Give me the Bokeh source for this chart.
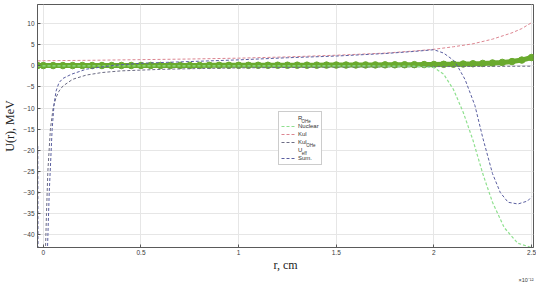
import math
from bokeh.plotting import figure
from bokeh.models import (Range1d, FixedTicker, Legend, LegendItem, Title)
from bokeh.embed import file_html
from bokeh.resources import INLINE

nan = float("nan")

# ---- data (r in units of 1e-12 cm, U in MeV) ----
x_ticks = [0, 0.5, 1, 1.5, 2, 2.5]
x_tick_labels = ["0", "0.5", "1", "1.5", "2", "2.5"]
y_ticks = [-40, -35, -30, -25, -20, -15, -10, -5, 0, 5, 10]

r_kul = [-0.03, 0.0, 0.25, 0.5, 0.75, 1.0, 1.25, 1.5, 1.75, 1.9, 2.0, 2.1, 2.2, 2.3, 2.4, 2.45, 2.5]
u_kul = [1.15, 1.2, 1.3, 1.45, 1.6, 1.8, 2.1, 2.5, 3.0, 3.5, 3.9, 4.5, 5.2, 6.3, 7.8, 8.8, 10.2]

r_nuc = [-0.03, 0.0, 0.5, 1.0, 1.5, 1.9, 2.0, 2.05, 2.1, 2.15, 2.2, 2.25, 2.3, 2.36, 2.43, 2.5]
u_nuc = [0.0, 0.0, 0.0, 0.0, 0.0, -0.1, -0.4, -2.0, -5.6, -11.0, -17.6, -25.5, -32.3, -38.3, -42.0, -43.0]

r_kul_ohe = [0.01, 0.016, 0.023, 0.036, 0.05, 0.065, 0.08, 0.1, 0.15, 0.22, 0.3, 0.4, 0.6, 0.8, 1.0, 1.5, 2.0, 2.5]
u_kul_ohe = [-45, -35, -25, -15, -10, -7.5, -6.0, -4.8, -3.2, -2.2, -1.6, -1.2, -0.85, -0.65, -0.5, -0.3, -0.2, -0.1]

r_sum = [-0.0285, -0.027, nan, 0.02, 0.03, 0.045, 0.055, 0.065, 0.08, 0.1, 0.144, 0.22, 0.36, 0.5,
         0.75, 1.0, 1.25, 1.5, 1.75, 1.9, 2.0, 2.05, 2.1, 2.12, 2.16, 2.21, 2.25, 2.3, 2.34, 2.38,
         2.43, 2.48, 2.5]
u_sum = [-19, -50, nan, -45, -30, -15, -9, -6, -4, -3, -2, -0.8, 0.1, 0.6,
         1.0, 1.4, 1.9, 2.3, 2.9, 3.4, 3.8, 3.0, 1.3, 0.0, -3.3, -9.4, -17.0, -25.5, -30.0, -32.3,
         -32.7, -32.0, -31.0]

r_eff = [-0.03, 0.0, 0.05, 0.1, 0.15, 0.2, 0.25, 0.3, 0.35, 0.4, 0.45, 0.5,
         0.55, 0.6, 0.65, 0.7, 0.75, 0.8, 0.85, 0.9, 0.95, 1.0,
         1.05, 1.1, 1.15, 1.2, 1.25, 1.3, 1.35, 1.4, 1.45, 1.5,
         1.55, 1.6, 1.65, 1.7, 1.75, 1.8, 1.85, 1.9, 1.95, 2.0,
         2.05, 2.1, 2.15, 2.2, 2.25, 2.3, 2.35, 2.4, 2.45, 2.5]
u_eff = [0.05, 0.05, 0.05, 0.05, 0.05, 0.06, 0.06, 0.06, 0.06, 0.07, 0.07, 0.07,
         0.08, 0.08, 0.08, 0.09, 0.09, 0.09, 0.10, 0.10, 0.10, 0.11,
         0.11, 0.12, 0.12, 0.13, 0.13, 0.14, 0.14, 0.15, 0.16, 0.17,
         0.18, 0.19, 0.20, 0.21, 0.22, 0.23, 0.25, 0.27, 0.29, 0.31,
         0.35, 0.38, 0.42, 0.48, 0.56, 0.66, 0.80, 1.00, 1.35, 1.95]

r_rohe = []
u_rohe = []

legend_labels = ["R", "Nuclear", "Kul", "Kul", "U", "Sum."]
legend_subs = ["OHe", "", "", "OHe", "eff", ""]

# ---- figure ----
X0, X1 = -0.03, 2.51
Y0, Y1 = -43.0, 14.5
FW, FH = 496, 243
p = figure(frame_width=FW, frame_height=FH, output_backend="svg", toolbar_location=None,
           x_range=Range1d(X0, X1), y_range=Range1d(Y0, Y1),
           min_border_left=28, min_border_right=3, min_border_top=4, min_border_bottom=10,
           background_fill_color="white", border_fill_color="white")
p.outline_line_color = "#5a5a5a"
p.outline_line_width = 1

p.xaxis.ticker = FixedTicker(ticks=x_ticks)
p.xaxis.major_label_overrides = {t: l for t, l in zip(x_ticks, x_tick_labels)}
p.yaxis.ticker = FixedTicker(ticks=y_ticks)
for ax in (p.xaxis[0], p.yaxis[0]):
    ax.axis_line_color = "#5a5a5a"
    ax.major_tick_line_color = "#5a5a5a"
    ax.major_tick_in = 3
    ax.major_tick_out = 0
    ax.minor_tick_line_color = None
    ax.major_label_text_font = "Liberation Sans"
    ax.major_label_text_font_size = "6.5px"
    ax.major_label_text_color = "#3a3a3a"
    ax.axis_label_text_font = "Liberation Serif"
    ax.axis_label_text_font_style = "normal"
    ax.axis_label_text_font_size = "12px"
    ax.axis_label_text_color = "#222222"
p.xaxis.major_label_standoff = 2
p.xaxis.axis_label_standoff = 0
p.yaxis.major_label_standoff = 3
p.yaxis.axis_label_standoff = 3
p.xaxis.axis_label = "r, cm"
p.yaxis.axis_label = "U(r), MeV"

p.add_layout(Title(text="×10⁻¹²", align="right", text_font="Liberation Sans",
                   text_font_size="5.5px", text_font_style="normal",
                   text_color="#3a3a3a", standoff=0, offset=0), "below")

p.grid.grid_line_color = "#e6e6e6"
p.grid.grid_line_width = 1
p.xgrid.ticker = FixedTicker(ticks=x_ticks)
p.ygrid.ticker = FixedTicker(ticks=y_ticks)

# ---- glyphs ----
col_kul = "#dc8590"
col_nuc = "#8fe08f"
col_kohe = "#6c6c84"
col_sum = "#5a5fa0"
col_eff = "#6aaa2e"

r_eff_line = p.line(r_eff, u_eff, line_color=col_eff, line_width=5)
r_eff_pts = p.scatter(r_eff, u_eff, marker="circle", size=6.5, fill_color=col_eff, line_color=col_eff)
r_kul_line = p.line(r_kul, u_kul, line_color=col_kul, line_width=1, line_dash="3 2")
r_kohe_line = p.line(r_kul_ohe, u_kul_ohe, line_color=col_kohe, line_width=1, line_dash="3 2")
r_nuc_line = p.line(r_nuc, u_nuc, line_color=col_nuc, line_width=1.2, line_dash="3 2")
r_sum_line = p.line(r_sum, u_sum, line_color=col_sum, line_width=1, line_dash="3 2")
r_rohe_pts = p.scatter(r_rohe, u_rohe, marker="circle", size=5, fill_color=None, line_color="#e06060")

# legend-only glyph for U_eff (thin dashed with dot)
leg_eff_line = p.line([], [], line_color="#a8d878", line_width=1, line_dash="3 2")
leg_eff_pt = p.scatter([], [], marker="circle", size=4, fill_color=col_eff, line_color=col_eff)
# invisible renderer used by the subscript mini-legends
leg_blank = p.line([], [], line_alpha=0)

renderer_sets = [[r_rohe_pts], [r_nuc_line], [r_kul_line], [r_kohe_line],
                 [leg_eff_line, leg_eff_pt], [r_sum_line]]
items = [LegendItem(label=lab, renderers=rs) for lab, rs in zip(legend_labels, renderer_sets)]

LX, LY = 241, 82
ROW, PAD, GW, STAND = 8, 2, 15, 2
legend = Legend(items=items, location=(LX, LY),
                label_text_font="Liberation Sans", label_text_font_size="6px",
                label_text_color="#333333",
                label_height=ROW, glyph_height=ROW, glyph_width=GW, label_standoff=STAND,
                spacing=0, padding=PAD, margin=0,
                border_line_color="#9a9a9a", border_line_width=1,
                background_fill_color="white", background_fill_alpha=1)
p.add_layout(legend)

# subscripts: tiny transparent one-item legends placed after the main labels
main_w = {"R": 4.6, "Kul": 9.2, "U": 4.8}
SUBH = 5
top = LY + 2 * PAD + ROW * len(items)
for i, (lab, sub) in enumerate(zip(legend_labels, legend_subs)):
    if not sub:
        continue
    px = LX + PAD + GW + STAND + main_w[lab]
    yc = top - PAD - ROW * i - ROW / 2 - 2.2
    sub_leg = Legend(items=[LegendItem(label=sub, renderers=[leg_blank])],
                     location=(px, yc - SUBH / 2),
                     label_text_font="Liberation Sans", label_text_font_size="4.5px",
                     label_text_color="#333333",
                     label_height=SUBH, glyph_height=SUBH, glyph_width=0, label_standoff=0,
                     spacing=0, padding=0, margin=0,
                     border_line_color=None, background_fill_alpha=0)
    p.add_layout(sub_leg)

open("out.html", "w").write(file_html(p, INLINE))
